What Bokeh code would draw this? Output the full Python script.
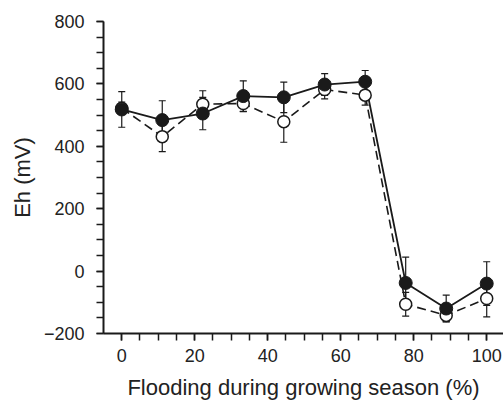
from bokeh.plotting import figure
from bokeh.models import Range1d, FixedTicker, Whisker, TeeHead, ColumnDataSource
from bokeh.embed import file_html
from bokeh.resources import INLINE

# ---- data ----
flooding = [0, 11.1, 22.2, 33.3, 44.4, 55.6, 66.7, 77.8, 88.9, 100]
eh_filled = [518, 484, 505, 561, 557, 598, 607, -38, -120, -40]
err_filled = [57, 62, 52, 49, 49, 35, 36, 83, 43, 70]
eh_open = [522, 431, 535, 537, 479, 582, 564, -106, -142, -88]
err_open = [20, 48, 43, 26, 66, 30, 32, 38, 20, 59]

x_major = [0, 20, 40, 60, 80, 100]
x_minor = list(range(0, 101, 5))
y_major = [-200, 0, 200, 400, 600, 800]
y_minor = list(range(-200, 801, 50))

FONT = "Liberation Sans"
INK = "#1a1a1a"

p = figure(width=503, height=402, output_backend="svg", toolbar_location=None,
           x_range=Range1d(-5, 104.6), y_range=Range1d(-200, 800),
           min_border_left=103, min_border_right=0, min_border_top=21,
           min_border_bottom=68)
p.outline_line_color = None
p.grid.visible = False
p.background_fill_color = "white"
p.border_fill_color = "white"

def src(y, e):
    return ColumnDataSource(dict(x=flooding, y=y,
                                 upper=[a + b for a, b in zip(y, e)],
                                 lower=[a - b for a, b in zip(y, e)]))

s_open = src(eh_open, err_open)
s_filled = src(eh_filled, err_filled)

for s in (s_open, s_filled):
    w = Whisker(base="x", upper="upper", lower="lower", source=s,
                line_color=INK, line_width=1.2,
                upper_head=TeeHead(size=7, line_color=INK, line_width=1.2),
                lower_head=TeeHead(size=7, line_color=INK, line_width=1.2))
    p.add_layout(w)

p.line("x", "y", source=s_open, line_color=INK, line_width=1.6, line_dash="9 5")
p.line("x", "y", source=s_filled, line_color=INK, line_width=1.8)
p.scatter("x", "y", source=s_open, size=12, fill_color="white",
          line_color=INK, line_width=1.5)
p.scatter("x", "y", source=s_filled, size=13, fill_color=INK,
          line_color=INK, line_width=1)

for ax, major, minor in ((p.xaxis[0], x_major, x_minor), (p.yaxis[0], y_major, y_minor)):
    ax.ticker = FixedTicker(ticks=major, minor_ticks=minor)
    ax.axis_line_width = 2
    ax.axis_line_color = INK
    ax.major_tick_line_color = INK
    ax.minor_tick_line_color = INK
    ax.major_tick_line_width = 1.5
    ax.minor_tick_line_width = 1.5
    ax.major_tick_out = 7
    ax.major_tick_in = 0
    ax.minor_tick_out = 7
    ax.minor_tick_in = 0
    ax.major_label_text_font = FONT
    ax.major_label_text_font_size = "18px"
    ax.major_label_text_color = "#222222"
    ax.axis_label_text_font = FONT
    ax.axis_label_text_font_size = "22px"
    ax.axis_label_text_font_style = "normal"
    ax.axis_label_text_color = "#222222"

p.xaxis.axis_label = "Flooding during growing season (%)"
p.yaxis.axis_label = "Eh (mV)"
p.xaxis.major_label_standoff = 8
p.yaxis.major_label_standoff = 12
p.xaxis.axis_label_standoff = 10
p.yaxis.axis_label_standoff = 6

open("out.html", "w").write(file_html(p, INLINE))
